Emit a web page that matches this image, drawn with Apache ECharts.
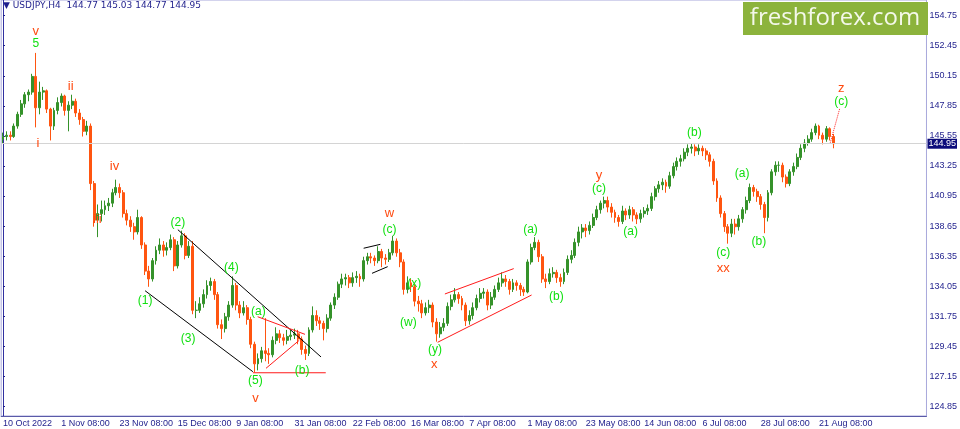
<!DOCTYPE html>
<html>
<head>
<meta charset="utf-8">
<title>USDJPY,H4</title>
<script src="https://cdn.jsdelivr.net/npm/echarts@6.0.0/dist/echarts.min.js"></script>
<style>
    html, body { margin: 0; padding: 0; background: #ffffff; }
    #chart { width: 960px; height: 429px; }
</style>
</head>
<body>
<div id="chart"></div>
<script>
// one candle per trading day (10 Oct 2022 .. 25 Aug 2023)
var firstOpen = 145.3;
var closes = [
    145.5, 145.6, 145.5, 146.3, 147.2, 148.0, 148.7, 148.9, 150.1, 147.7,
    148.9, 149.0, 147.6, 146.3, 147.5, 148.1, 148.6, 147.5, 147.9, 148.2,
    147.3, 146.8, 145.9, 146.3, 141.9, 139.1, 139.6, 139.9, 140.2, 140.4,
    141.2, 141.6, 141.2, 139.6, 139.1, 138.6, 138.2, 139.3, 137.2, 135.2,
    134.6, 136.0, 136.8, 137.2, 136.8, 137.0, 137.6, 135.6, 137.2, 137.9,
    136.4, 137.1, 132.2, 132.2, 132.7, 133.4, 134.1, 134.4, 133.4, 131.1,
    130.8, 131.7, 132.6, 134.1, 132.6, 132.0, 132.4, 131.5, 129.6, 128.1,
    128.5, 129.1, 128.9, 128.8, 129.9, 130.4, 130.1, 129.9, 130.2, 130.3,
    130.4, 130.0, 129.2, 128.9, 130.7, 131.8, 131.4, 131.2, 130.8, 131.6,
    132.6, 133.2, 134.2, 134.6, 134.7, 134.3, 134.7, 134.8, 134.6, 136.0,
    136.3, 136.2, 136.0, 136.7, 136.2, 136.1, 136.6, 137.5, 136.6, 135.9,
    133.8, 134.3, 134.0, 132.9, 132.7, 132.0, 132.4, 132.6, 131.3, 130.4,
    130.9, 131.2, 132.5, 133.0, 133.4, 133.1, 132.6, 131.4, 131.8, 132.4,
    133.1, 133.5, 133.6, 132.6, 133.2, 133.8, 134.3, 134.6, 134.4, 133.8,
    134.3, 134.1, 133.8, 133.6, 135.9, 137.0, 137.4, 136.3, 134.6, 134.4,
    135.0, 135.1, 134.7, 134.4, 135.1, 136.1, 136.4, 137.4, 138.2, 138.5,
    138.3, 138.7, 139.3, 139.9, 140.4, 140.6, 140.1, 139.7, 139.3, 139.0,
    139.8, 139.5, 139.9, 139.5, 139.2, 139.6, 139.8, 140.0, 140.9, 141.5,
    141.8, 142.0, 141.7, 142.5, 143.2, 143.6, 143.8, 144.3, 144.6, 144.7,
    144.4, 144.6, 144.4, 144.1, 143.6, 142.1, 140.8, 139.6, 138.6, 138.1,
    138.8, 138.6, 139.2, 139.9, 140.6, 141.6, 141.3, 140.9, 140.3, 139.3,
    141.2, 142.8, 143.3, 143.3, 142.4, 141.9, 142.8, 143.2, 143.9, 144.6,
    145.0, 145.3, 145.8, 146.3, 145.6, 145.3, 146.1, 145.5, 144.95
];
var lows = [
    145.0, 145.2, 145.2, 145.4, 146.1, 147.0, 147.7, 148.2, 148.7, 146.2,
    147.2, 148.3, 147.3, 145.2, 146.0, 147.2, 147.8, 147.1, 145.9, 147.6,
    147.0, 146.4, 145.5, 145.6, 141.4, 138.6, 137.8, 139.0, 139.5, 139.8,
    140.1, 141.0, 140.8, 139.3, 138.7, 138.2, 137.6, 138.0, 136.9, 134.9,
    134.0, 134.4, 135.7, 136.5, 136.3, 136.4, 136.8, 135.2, 135.4, 137.0,
    136.1, 136.2, 131.9, 131.6, 132.0, 132.4, 133.1, 133.7, 133.0, 130.8,
    130.0, 130.5, 131.4, 132.4, 132.2, 131.6, 131.8, 131.1, 129.3, 127.45,
    127.6, 128.2, 128.3, 128.1, 128.6, 129.6, 129.7, 129.5, 129.6, 129.9,
    130.0, 129.6, 128.8, 128.4, 128.7, 130.5, 131.0, 130.7, 129.9, 130.5,
    131.4, 132.3, 133.0, 133.9, 134.1, 133.9, 134.0, 134.3, 134.0, 134.4,
    135.7, 135.8, 135.6, 135.8, 135.5, 135.7, 135.9, 136.4, 136.3, 135.5,
    133.4, 133.5, 133.6, 132.5, 132.1, 131.6, 131.8, 132.0, 130.9, 129.8,
    130.1, 130.6, 131.0, 132.2, 132.8, 132.7, 132.2, 131.0, 131.1, 131.5,
    132.2, 132.8, 133.1, 132.2, 132.3, 133.0, 133.6, 134.0, 134.0, 133.4,
    133.6, 133.7, 133.3, 133.3, 133.5, 135.7, 136.8, 135.9, 134.3, 133.9,
    134.2, 134.7, 134.3, 134.0, 134.2, 134.9, 135.8, 136.2, 137.1, 137.7,
    137.8, 138.0, 138.5, 139.1, 139.6, 140.0, 139.7, 139.3, 138.9, 138.6,
    138.8, 139.1, 139.2, 139.0, 138.8, 138.9, 139.3, 139.5, 139.8, 140.6,
    141.2, 141.4, 141.2, 141.5, 142.3, 142.9, 143.2, 143.6, 144.0, 144.2,
    144.0, 144.1, 144.0, 143.7, 143.2, 141.8, 140.5, 139.3, 138.2, 137.3,
    137.8, 138.0, 138.3, 138.9, 139.6, 140.4, 140.9, 140.5, 139.9, 138.1,
    139.0, 141.0, 142.5, 142.8, 142.0, 141.6, 141.7, 142.5, 143.0, 143.7,
    144.3, 144.8, 145.1, 145.6, 145.3, 144.9, 145.1, 145.2, 144.6
];
var highs = [
    145.8, 145.9, 145.9, 146.5, 147.4, 148.3, 148.9, 149.1, 150.3, 151.9,
    149.7, 149.3, 149.1, 147.7, 147.7, 148.5, 148.8, 148.7, 148.2, 148.7,
    148.4, 147.6, 147.0, 146.7, 146.5, 142.1, 140.3, 140.6, 140.6, 140.8,
    141.5, 142.2, 141.9, 141.4, 139.9, 139.4, 138.9, 139.9, 139.4, 137.4,
    135.6, 136.2, 137.1, 137.7, 137.5, 137.4, 138.0, 137.8, 137.5, 138.3,
    138.1, 137.5, 137.5, 132.9, 133.2, 133.8, 134.5, 134.7, 134.6, 133.6,
    131.5, 132.0, 132.9, 134.8, 134.3, 132.9, 132.9, 132.6, 131.7, 129.8,
    128.9, 129.4, 131.6, 129.3, 130.2, 130.9, 130.7, 130.4, 130.7, 130.7,
    130.8, 130.7, 130.2, 129.5, 130.9, 132.5, 132.2, 131.7, 131.4, 131.9,
    132.8, 133.5, 134.4, 135.0, 135.0, 134.9, 135.1, 135.2, 135.0, 136.3,
    136.6, 136.6, 136.4, 137.1, 136.9, 136.5, 136.9, 137.9, 137.7, 136.9,
    136.1, 134.8, 134.6, 134.2, 133.3, 133.0, 132.8, 133.0, 132.8, 131.6,
    131.3, 131.6, 132.8, 133.4, 133.9, 133.6, 133.3, 132.8, 132.2, 132.8,
    133.4, 133.9, 133.9, 133.8, 133.6, 134.1, 134.7, 135.1, 134.9, 134.6,
    134.6, 134.5, 134.3, 134.0, 136.1, 137.3, 137.8, 137.6, 136.5, 135.0,
    135.4, 135.5, 135.3, 135.0, 135.4, 136.4, 136.8, 137.7, 138.6, 138.8,
    138.8, 139.0, 139.6, 140.2, 140.6, 140.9, 140.9, 140.4, 139.9, 139.5,
    140.2, 140.0, 140.2, 140.1, 139.7, 139.9, 140.1, 140.3, 141.2, 141.7,
    142.1, 142.3, 142.2, 142.8, 143.5, 143.9, 144.1, 144.6, 144.9, 145.0,
    144.9, 144.9, 144.8, 144.6, 144.3, 143.8, 142.3, 141.0, 139.8, 138.8,
    139.2, 139.2, 139.5, 140.1, 140.9, 141.9, 141.8, 141.5, 141.1, 140.5,
    141.4, 143.0, 143.6, 143.6, 143.5, 142.6, 143.0, 143.5, 144.2, 144.9,
    145.3, 145.6, 146.1, 146.5, 146.4, 145.8, 146.3, 146.2, 145.7
];

// x axis labels, one every 16 trading days
var tickLabels = [
    '10 Oct 2022', '1 Nov 08:00', '23 Nov 08:00', '15 Dec 08:00', '9 Jan 08:00',
    '31 Jan 08:00', '22 Feb 08:00', '16 Mar 08:00', '7 Apr 08:00', '1 May 08:00',
    '23 May 08:00', '14 Jun 08:00', '6 Jul 08:00', '28 Jul 08:00', '21 Aug 08:00'
];
var daysPerTick = 16;
var dayCount = 254;   // days the window has room for

var priceTicks = [154.75, 152.45, 150.15, 147.85, 145.55, 143.25, 140.95,
    138.65, 136.35, 134.05, 131.75, 129.45, 127.15, 124.85];
var lastPrice = 144.95;
var headerQuote = ['144.77', '145.03', '144.77', '144.95'];

// wave marks: [day, price, text]
var greenLabels = [
    [9.0, 152.58, '5'], [48.0, 138.88, '(2)'], [62.7, 135.44, '(4)'],
    [39.0, 132.91, '(1)'], [50.8, 130.0, '(3)'], [70.1, 132.07, '(a)'],
    [82.1, 127.55, '(b)'], [69.3, 126.79, '(5)'], [106.1, 138.35, '(c)'],
    [112.9, 134.22, '(x)'], [111.3, 131.23, '(w)'], [118.6, 129.17, '(y)'],
    [144.8, 138.35, '(a)'], [151.9, 133.22, '(b)'], [163.6, 141.49, '(c)'],
    [172.3, 138.2, '(a)'], [189.8, 145.77, '(b)'], [202.9, 142.63, '(a)'],
    [197.7, 136.58, '(c)'], [207.5, 137.43, '(b)'], [230.1, 148.15, '(c)']
];
var redLabels = [
    [9.0, 153.58, 'v'], [18.6, 149.37, 'ii'], [9.6, 145.0, 'i'],
    [30.6, 143.25, 'iv'], [25.9, 139.19, 'iii'], [69.3, 125.49, 'v'],
    [106.1, 139.65, 'w'], [118.4, 128.02, 'x'], [163.6, 142.56, 'y'],
    [197.7, 135.44, 'xx'], [230.1, 149.22, 'z']
];

// trend lines: [[day, price], [day, price]]
var blackLines = [
    [[48.0, 138.37], [87.3, 128.63]],
    [[39.0, 133.7], [68.6, 127.5]],
    [[99.0, 136.95], [103.6, 137.25]],
    [[101.3, 135.03], [105.6, 135.54]]
];
var redLines = [
    [[69.9, 131.71], [82.9, 130.36]],
    [[72.2, 127.76], [81.3, 129.9]],
    [[68.6, 127.42], [88.6, 127.42]],
    [[121.3, 133.45], [140.2, 135.39]],
    [[119.3, 129.75], [145.1, 133.37]]
];
var projection = [[227.1, 145.03], [229.7, 147.66]];

var NAVY = '#1e1e8c';
var UP = '#35922a';
var DOWN = '#ff5510';
var GREEN_TXT = '#10e010';
var RED_TXT = '#ff4a10';
var FONT = 'Liberation Sans';

var days = [];
for (var d = 0; d < dayCount; d++) {
    days.push(String(d));
}
var candles = [];
for (var i = 0; i < closes.length; i++) {
    var open = i === 0 ? firstOpen : closes[i - 1];
    candles.push([open, closes[i], lows[i], highs[i]]);
}

function showTick(idx) {
    return idx % daysPerTick === 0 && idx / daysPerTick < tickLabels.length;
}

function segmentSeries(seg, color, type) {
    return {
        type: 'line',
        xAxisIndex: 1,
        data: seg,
        symbol: 'none',
        silent: true,
        lineStyle: { color: color, width: 1, type: type || 'solid' },
        z: 4
    };
}

function labelSeries(list, color, size) {
    return {
        type: 'scatter',
        xAxisIndex: 1,
        data: list,
        symbolSize: 1,
        itemStyle: { color: 'transparent', opacity: 1 },
        silent: true,
        z: 6,
        label: {
            show: true,
            position: 'inside',
            color: color,
            opacity: 1,
            textBorderWidth: 0,
            fontFamily: FONT,
            fontSize: size,
            formatter: function (p) { return p.data[2]; }
        }
    };
}

var series = [{
    type: 'candlestick',
    data: candles,
    barWidth: 2.4,
    itemStyle: {
        color: UP,
        color0: DOWN,
        borderColor: UP,
        borderColor0: DOWN,
        borderWidth: 1
    },
    markLine: {
        silent: true,
        symbol: 'none',
        lineStyle: { color: '#d4d4d4', width: 1, type: 'solid' },
        label: {
            position: 'end',
            distance: 1,
            formatter: lastPrice.toFixed(2),
            color: '#ffffff',
            backgroundColor: '#0c0c7a',
            fontFamily: FONT,
            fontSize: 9,
            padding: [1, 1, 0, 1]
        },
        data: [{ yAxis: lastPrice }]
    },
    z: 3
}];
blackLines.forEach(function (seg) { series.push(segmentSeries(seg, '#000000')); });
redLines.forEach(function (seg) { series.push(segmentSeries(seg, '#ff1a1a')); });
series.push(segmentSeries(projection, '#ff2020', 'dotted'));
series.push(labelSeries(greenLabels, GREEN_TXT, 12));
series.push(labelSeries(redLabels, RED_TXT, 13));

var chart = echarts.init(document.getElementById('chart'));
chart.setOption({
    animation: false,
    backgroundColor: '#ffffff',
    grid: {
        left: 0, top: 0, right: 32, bottom: 13,
        show: true, borderColor: '#a8a8dc', borderWidth: 1
    },
    xAxis: [{
        type: 'category',
        data: days,
        boundaryGap: true,
        axisLine: { lineStyle: { color: '#5a5aa8' } },
        axisTick: { interval: showTick, alignWithLabel: true, length: 3, lineStyle: { color: NAVY } },
        axisLabel: {
            interval: showTick,
            formatter: function (v, idx) { return tickLabels[idx / daysPerTick] || ''; },
            align: 'left',
            margin: 3,
            color: NAVY,
            fontFamily: FONT,
            fontSize: 9
        },
        splitLine: { show: false }
    }, {
        type: 'value',
        min: -0.5,
        max: dayCount - 0.5,
        show: false
    }],
    yAxis: {
        type: 'value',
        position: 'right',
        min: 124.11,
        max: 155.95,
        axisLine: { show: true, lineStyle: { color: '#3030a0' } },
        axisTick: { show: true, length: 2, customValues: priceTicks, lineStyle: { color: NAVY } },
        axisLabel: {
            customValues: priceTicks,
            formatter: function (v) { return v.toFixed(2); },
            margin: 3,
            color: NAVY,
            fontFamily: FONT,
            fontSize: 9
        },
        splitLine: { show: false }
    },
    series: series,
    graphic: [{
        type: 'text',
        left: 3,
        top: 1,
        style: {
            text: '\u25BC USDJPY,H4  ' + headerQuote.join(' '),
            fill: NAVY,
            font: '9px "DejaVu Sans"'
        },
        z: 10
    }, {
        type: 'rect',
        shape: { x: 743, y: 2, width: 185, height: 33 },
        style: { fill: '#8cb33c' },
        z: 10
    }, {
        type: 'text',
        x: 835,
        y: 18,
        style: {
            text: 'freshforex.com',
            fill: '#f4f8ea',
            font: '24px "Open Sans"',
            textAlign: 'center',
            textVerticalAlign: 'middle'
        },
        z: 11
    }]
});
</script>
</body>
</html>
